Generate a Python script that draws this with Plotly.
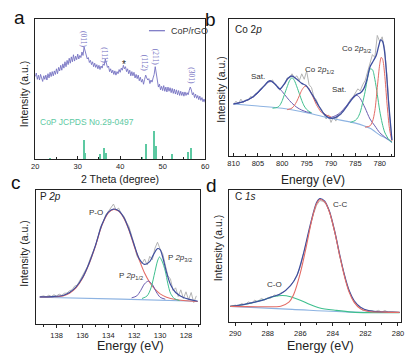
import plotly.graph_objects as go

W, H = 416, 359
OFF = 8  # default page margin of the html body
FW, FH = W - OFF, H - OFF

# ================= Panel a : XRD =================
xrd_theta = [round(20 + 0.25 * i, 2) for i in range(161)]
xrd_intensity = [
    59, 61.5, 57, 60, 56.5, 60.5, 58, 55.5, 59.5, 57, 60, 56.5, 61, 58, 62, 59,
    62.5, 59.5, 63, 60.5, 64.5, 61, 65.5, 63, 67, 63.5, 68, 65, 69.5, 66, 70.5, 67.5,
    72, 68.5, 73, 69.5, 74.5, 70, 73.5, 71, 75, 71.5, 74, 72.5, 76.5, 74, 80, 77,
    74, 71.5, 72.5, 69, 70.5, 67.5, 69.5, 66, 68.5, 65.5, 67.5, 64.5, 67, 64, 66.5, 65,
    68, 67, 71.5, 68, 65.5, 66.5, 62.5, 64.5, 61.5, 63.5, 60.5, 63, 60, 62.5, 61, 64,
    62, 65, 63.5, 67, 64.5, 66, 62.5, 64.5, 61, 63.5, 59.5, 62.5, 59.5, 62, 58, 60.5,
    57.5, 60, 56, 58.5, 55, 57, 53.5, 57, 60, 58, 56.5, 57.5, 54, 56.5, 55, 58,
    60.5, 66, 62, 56, 51.5, 53.5, 49.5, 52, 49, 52.5, 48.5, 51.5, 48, 51.5, 48.5, 51,
    47.5, 50.5, 47, 50, 46.5, 49.5, 46, 49, 45.5, 48.5, 45.5, 48, 45, 48, 45.5, 47.5,
    46, 49, 51.5, 49.5, 46, 47.5, 44, 46.5, 43.5, 45.5, 42.5, 45, 42, 44, 41, 43, 40.5,
]
ref_theta = [23.6, 31.6, 31.9, 35.3, 36.3, 36.7, 45.2, 46.2, 48.1, 48.4, 52.3, 56.0, 56.8]
ref_height = [1.0, 13.8, 4.3, 3.6, 8.3, 4.3, 1.4, 10.7, 20.4, 9.5, 3.8, 5.4, 7.9]
miller_text = ["(011)", "(111)", "(112)", "(211)", "(301)"]
miller_theta = [31.5, 36.4, 45.9, 48.5, 56.6]
miller_y = [85.7, 74.3, 68.6, 72.9, 59.4]
star_theta = 40.8
star_y = 67.9

# ================= Panel b : Co 2p =================
co_raw_be = [810 - 0.5 * i for i in range(66)]
co_raw = [
    37.5, 40, 38, 41.5, 39, 41, 40.5, 43.5, 42.5, 45.5, 46, 49, 50.5, 51.5, 54.5, 54,
    55.5, 52, 51, 48, 50.5, 52.5, 57, 57, 60, 57, 58.5, 55, 60, 56, 62, 52,
    50, 43, 41, 36, 34.5, 30, 27, 30, 24.5, 28.5, 25.5, 30.5, 30, 33.5, 35, 38,
    41.5, 43, 46, 49, 47.5, 52, 55, 62, 68, 74, 72, 88, 83.5, 87, 78, 58, 30, 12,
]
co_env_be = [810, 808, 806, 804, 803, 802.5, 801.5, 800.5, 799.5, 798.8, 798, 797, 796, 795.2,
             794.5, 793.5, 792.5, 791.5, 790.5, 789.5, 788.5, 787.5, 786.5, 785.5, 784.7,
             784, 783.3, 782.6, 782, 781.3, 780.7, 780.2, 779.8, 779.4, 779, 778.6, 778.2, 777.5]
co_env = [38.0, 39.7, 43.3, 50.1, 54.0, 55.0, 52.6, 48.9, 53.0, 56.8, 58.4, 56.0, 53.0, 51.6,
          48.5, 42.7, 36.5, 31.0, 28.0, 27.6, 29.3, 32.6, 37.5, 42.2, 45.0,
          46.0, 49.0, 56.0, 65.0, 69.5, 73.5, 80.5, 84.7, 83.5, 76.0, 60.0, 40.0, 11.7]
co_bg_be = [810, 805, 800, 795, 790, 785, 782, 780, 779, 778, 777.5]
co_bg = [38.0, 36.5, 34.8, 31.6, 27.5, 24.0, 20.2, 15.3, 13.4, 11.2, 9.7]
sat1_be = [810, 808, 806, 805, 804, 803, 802.5, 802, 801, 800, 799, 798, 797, 796, 795, 794]
sat1 = [38.0, 39.5, 43.0, 46.0, 50.0, 53.5, 54.5, 54.0, 51.0, 47.0, 42.5, 38.5, 35.5, 33.5, 32.2, 31.5]
g12_be = [802, 801, 800.5, 800, 799.5, 799, 798.5, 798, 797.5, 797, 796.5, 796, 795.5, 795, 794.5, 794]
g12 = [34.9, 35.5, 37.0, 40.5, 45.5, 50.5, 55.0, 57.2, 55.0, 50.5, 45.5, 40.5, 36.5, 34.0, 32.5, 31.5]
r12_be = [799, 798, 797.5, 797, 796.5, 796, 795.5, 795.1, 794.6, 794, 793.5, 793, 792.5, 792, 791, 790]
r12 = [33.8, 35.0, 37.0, 40.0, 44.0, 48.0, 50.5, 51.0, 49.5, 45.5, 41.5, 37.5, 34.5, 32.0, 30.0, 28.5]
sat2_be = [790.5, 789, 788, 787, 786, 785.5, 785, 784.5, 784, 783, 782, 781, 780, 779, 778, 777.5]
sat2 = [27.6, 29.5, 32.0, 36.0, 40.5, 43.0, 44.3, 44.0, 42.0, 35.0, 27.0, 22.0, 17.0, 14.0, 11.5, 10.3]
g32_be = [786, 785, 784.5, 784, 783.5, 783, 782.5, 782, 781.5, 781, 780.5, 780, 779.5, 779, 778.5, 778, 777.5]
g32 = [24.5, 26.0, 28.0, 32.0, 39.0, 47.0, 57.0, 63.5, 63.0, 56.0, 45.0, 33.0, 24.0, 17.5, 14.0, 11.5, 10.0]
r32_be = [783, 782, 781.5, 781, 780.5, 780, 779.7, 779.4, 779, 778.5, 778, 777.5]
r32 = [21.0, 22.0, 25.0, 33.0, 50.0, 67.0, 72.0, 70.5, 60.0, 38.0, 20.0, 11.0]

# ================= Panel c : P 2p =================
p_raw_be = [round(139.2 - 0.2 * i, 1) for i in range(61)]
p_raw = [
    20.5, 21.0, 20.2, 21.5, 20.6, 21.8, 20.9, 22.3, 21.4, 22.9, 23.1, 24.8, 25.5, 28.3, 29.0, 32.5,
    35.2, 39.5, 43.0, 48.8, 53.5, 58.0, 64.5, 72.5, 76.0, 81.5, 84.0, 86.5, 89.5, 85.0, 86.5, 82.0,
    80.5, 76.0, 72.5, 66.0, 59.5, 51.0, 47.5, 45.0, 48.5, 44.0, 50.5, 48.0, 56.5, 61.0, 56.0, 52.5,
    44.0, 36.0, 33.5, 25.0, 27.0, 20.5, 25.5, 19.0, 24.0, 18.0, 23.5, 16.0, 21.0,
]
p_env_be = [139.3, 138.3, 137.5, 137.0, 136.5, 136.0, 135.5, 135.0, 134.5, 134.0, 133.6, 133.2,
            132.8, 132.4, 132.0, 131.6, 131.2, 130.8, 130.5, 130.2, 130.0, 129.8, 129.5, 129.2,
            128.8, 128.2, 127.1]
p_env = [20.2, 20.5, 21.3, 23.5, 27.5, 34.5, 45.0, 58.5, 74.0, 83.5, 85.8, 84.5,
         79.5, 70.5, 59.0, 48.5, 44.5, 46.5, 52.0, 56.3, 55.5, 50.0, 38.5, 29.5,
         23.5, 19.8, 17.0]
p_po_be = [139.3, 138.3, 137.5, 137.0, 136.5, 136.0, 135.5, 135.0, 134.5, 134.0, 133.6, 133.2,
           132.8, 132.4, 132.0, 131.6, 131.2, 130.8, 130.4, 130.0, 129.5, 128.8, 127.1]
p_po = [20.2, 20.3, 21.0, 23.0, 27.0, 34.0, 44.5, 58.0, 73.5, 83.0, 85.5, 84.2,
        79.0, 70.0, 58.0, 47.5, 38.0, 31.0, 26.0, 22.5, 20.0, 18.3, 16.8]
p32_be = [131.4, 131.0, 130.7, 130.4, 130.2, 130.05, 129.85, 129.6, 129.4, 129.2, 128.9, 128.5]
p32 = [19.0, 21.0, 27.0, 39.0, 47.0, 50.0, 47.0, 39.5, 30.0, 23.0, 19.0, 17.5]
p12_be = [132.2, 131.8, 131.5, 131.2, 130.9, 130.6, 130.3, 130.0, 129.6]
p12 = [19.5, 21.0, 25.0, 30.0, 32.0, 29.5, 24.0, 20.0, 18.5]
p_bg_be = [139.3, 133.0, 127.1]
p_bg = [20.0, 18.6, 17.0]

# ================= Panel d : C 1s =================
c_raw_be = [round(290.2 - 0.2 * i, 1) for i in range(52)]
c_raw = [
    12.0, 12.8, 12.2, 14.0, 13.0, 15.2, 14.3, 16.5, 15.5, 17.8, 16.8, 18.5, 18.0, 20.5, 19.8, 22.0,
    22.8, 25.0, 27.8, 31.0, 35.5, 42.0, 52.5, 61.5, 72.0, 81.5, 88.5, 92.0, 91.5, 89.0, 83.5, 74.0,
    64.0, 51.0, 40.0, 31.0, 23.5, 17.5, 13.5, 11.0, 9.0, 8.5, 8.0, 8.6, 7.8, 8.8, 7.5, 8.7,
    7.4, 7.8, 7.5, 7.3,
]
c_env_be = [290.3, 289.5, 288.8, 288.2, 287.8, 287.2, 286.6, 286.2, 285.8, 285.4, 285.0, 284.8,
            284.5, 284.2, 283.9, 283.6, 283.3, 283.0, 282.7, 282.3, 281.8, 280.8, 279.9]
c_env = [11.8, 13.2, 15.0, 17.0, 18.8, 21.4, 27.6, 35.5, 52.0, 73.0, 90.5, 93.5,
         91.5, 83.5, 69.5, 52.2, 36.2, 23.8, 16.3, 11.2, 8.6, 7.6, 7.3]
c_cc_be = [290.3, 288.5, 287.2, 286.7, 286.4, 286.0, 285.6, 285.3, 285.0, 284.8, 284.5, 284.2,
           283.9, 283.6, 283.3, 283.0, 282.7, 282.3, 281.8, 280.8, 279.9]
c_cc = [11.8, 11.6, 12.0, 15.0, 21.0, 37.0, 59.0, 77.0, 89.5, 92.8, 91.0, 83.0,
        69.0, 51.5, 35.2, 22.6, 15.1, 10.0, 8.0, 7.5, 7.3]
c_co_be = [290.3, 289.2, 288.2, 287.6, 287.1, 286.6, 286.0, 285.4, 284.8, 283.8, 282.8, 281.8, 279.9]
c_co = [11.8, 13.8, 17.1, 19.3, 20.1, 19.2, 16.5, 13.2, 10.6, 8.8, 7.5, 7.1, 7.0]
c_bg_be = [290.3, 286.5, 282.8, 279.9]
c_bg = [11.8, 9.6, 7.5, 7.2]

# ================= styling =================
FONT = "Arial, Liberation Sans, sans-serif"
SERIF = "Times New Roman, Liberation Serif, serif"
C_RAW = "#ABABAB"
C_ENV = "#3F4F9F"
C_SAT = "#6A5CB0"
C_GRN = "#3EBF8E"
C_RED = "#E46C66"
C_BG = "#8DB3E2"
C_XRD = "#7572C2"
C_REF = "#5DC9A2"


def px(x):
    return (x - OFF) / FW


def py(y):
    return 1 - (y - OFF) / FH


fig = go.Figure()


def line(x, y, color, width=1.0, ax="", spline=False):
    fig.add_trace(go.Scatter(
        x=x, y=y, mode="lines", xaxis="x" + ax, yaxis="y" + ax,
        line=dict(color=color, width=width, shape="spline" if spline else "linear",
                  smoothing=0.8 if spline else None),
        showlegend=False, hoverinfo="skip"))


# panel a
fig.add_trace(go.Bar(x=ref_theta, y=ref_height, width=0.18, marker=dict(color=C_REF, line=dict(width=0)),
                     xaxis="x", yaxis="y", showlegend=False, hoverinfo="skip"))
line(xrd_theta, xrd_intensity, C_XRD, 0.9, "")

# panel b
line(co_raw_be, co_raw, C_RAW, 0.9, "2")
line(co_bg_be, co_bg, C_BG, 1.1, "2", True)
line(sat1_be, sat1, C_SAT, 1.0, "2", True)
line(g12_be, g12, C_GRN, 1.0, "2", True)
line(r12_be, r12, C_RED, 1.0, "2", True)
line(sat2_be, sat2, C_SAT, 1.0, "2", True)
line(g32_be, g32, C_GRN, 1.0, "2", True)
line(r32_be, r32, C_RED, 1.0, "2", True)
line(co_env_be, co_env, C_ENV, 1.3, "2", True)

# panel c
line(p_raw_be, p_raw, C_RAW, 0.9, "3")
line(p_bg_be, p_bg, C_BG, 1.1, "3", True)
line(p_po_be, p_po, C_RED, 1.1, "3", True)
line(p12_be, p12, C_SAT, 1.0, "3", True)
line(p32_be, p32, C_GRN, 1.0, "3", True)
line(p_env_be, p_env, C_ENV, 1.2, "3", True)

# panel d
line(c_raw_be, c_raw, C_RAW, 0.9, "4")
line(c_bg_be, c_bg, C_BG, 1.1, "4", True)
line(c_co_be, c_co, C_GRN, 1.1, "4", True)
line(c_env_be, c_env, C_ENV, 1.2, "4", True)
line(c_cc_be, c_cc, C_RED, 1.1, "4", True)

top_x = dict(showline=True, linecolor="#222", linewidth=1, mirror=True, showgrid=False,
             zeroline=False, ticks="inside", ticklen=3, tickwidth=0.8, tickcolor="#222",
             tickfont=dict(family=FONT, size=7.5, color="#222"))
bot_x = dict(showline=True, linecolor="#222", linewidth=1, mirror=True, showgrid=False,
             zeroline=False, ticks="outside", ticklen=3, tickwidth=0.8, tickcolor="#222",
             ticklabelstandoff=1,
             tickfont=dict(family=FONT, size=7.5, color="#222"))
yaxis_common = dict(showline=True, linecolor="#222", linewidth=1, mirror=True, showgrid=False,
                    zeroline=False, showticklabels=False, ticks="", range=[0, 100], fixedrange=True)

fig.update_layout(
    width=FW, height=FH, margin=dict(l=0, r=0, t=0, b=0),
    paper_bgcolor="white", plot_bgcolor="white", showlegend=False, bargap=0,
    xaxis=dict(top_x, domain=[px(31.7), px(205)], range=[20, 60], dtick=10, tick0=20,
               minor=dict(ticks="inside", ticklen=2, dtick=5, tickcolor="#222"), anchor="y"),
    yaxis=dict(yaxis_common, domain=[py(159.3), py(19)], anchor="x"),
    xaxis2=dict(top_x, domain=[px(229), px(398)], range=[811.0, 777.0], dtick=5, tick0=780,
                minor=dict(ticks="inside", ticklen=2, dtick=2.5, tickcolor="#222"), anchor="y2"),
    yaxis2=dict(yaxis_common, domain=[py(156), py(19)], anchor="x2"),
    xaxis3=dict(bot_x, domain=[px(32.3), px(200)], range=[139.6, 126.9], dtick=2, tick0=128,
                minor=dict(ticks="outside", ticklen=2, dtick=1, tickcolor="#222"), anchor="y3"),
    yaxis3=dict(yaxis_common, domain=[py(324), py(190)], anchor="x3"),
    xaxis4=dict(bot_x, domain=[px(229), px(405)], range=[290.4, 279.8], dtick=2, tick0=280,
                minor=dict(ticks="outside", ticklen=2, dtick=1, tickcolor="#222"), anchor="y4"),
    yaxis4=dict(yaxis_common, domain=[py(322), py(190)], anchor="x4"),
)

ann = []


def text(x, y, s, size, color="#333", xanchor="center", angle=0, family=FONT):
    ann.append(dict(x=px(x), y=py(y), xref="paper", yref="paper", text=s, showarrow=False,
                    xanchor=xanchor, yanchor="middle", textangle=angle,
                    font=dict(family=family, size=size, color=color)))


# Miller indices (data coordinates, rotated)
for t, xv, yv in zip(miller_text, miller_theta, miller_y):
    ann.append(dict(x=xv, y=yv, xref="x", yref="y", text=t, showarrow=False, textangle=90,
                    xanchor="center", yanchor="middle",
                    font=dict(family=SERIF, size=7.5, color=C_XRD)))
ann.append(dict(x=star_theta, y=star_y, xref="x", yref="y", text="*", showarrow=False,
                xanchor="center", yanchor="middle", font=dict(family=FONT, size=10, color="#222")))

# panel letters
text(15.5, 18, "a", 19, "#111")
text(210, 20, "b", 19, "#111")
text(12, 182, "c", 19, "#111")
text(211, 185, "d", 19, "#111")

# axis titles
text(118, 178.5, "2 Theta (degree)", 10.5, "#222")
text(315, 179.5, "Energy (eV)", 12, "#222")
text(128.5, 345.5, "Energy (eV)", 12.5, "#222")
text(323, 345.5, "Energy (eV)", 12.5, "#222")
text(20, 93.5, "Intensity (a.u.)", 10.5, "#222", angle=-90)
text(221, 89, "Intensity (a.u.)", 10.5, "#222", angle=-90)
text(20, 253, "Intensity (a.u.)", 10.5, "#222", angle=-90)
text(218.5, 248, "Intensity (a.u.)", 10.5, "#222", angle=-90)

# panel a legend & reference label
text(168, 30.7, "CoP/rGO", 9, "#333", xanchor="left")
text(35, 121.7, "CoP JCPDS No.29-0497", 8.5, C_REF, xanchor="left")

# panel b labels
text(233, 30, "Co 2<i>p</i>", 10, "#222", xanchor="left")
text(259, 76.5, "Sat.", 8, "#333")
text(305, 70, "Co 2<i>p</i><sub>1/2</sub>", 8, "#333", xanchor="left")
text(341.5, 89.3, "Sat.", 8, "#333")
text(342.5, 49.3, "Co 2<i>p</i><sub>3/2</sub>", 8, "#333", xanchor="left")

# panel c labels
text(35, 196, "P <i>2p</i>", 10, "#222", xanchor="left")
text(93.5, 212.3, "P-O", 8, "#333")
text(165, 258.3, "P <i>2p</i><sub>3/2</sub>", 8, "#333", xanchor="left")
text(115.5, 276, "P <i>2p</i><sub>1/2</sub>", 8, "#333", xanchor="left")

# panel d labels
text(233, 196.7, "C <i>1s</i>", 10, "#222", xanchor="left")
text(342.5, 204, "C-C", 8, "#333")
text(275.7, 284.5, "C-O", 8, "#333")

fig.update_layout(annotations=ann)
fig.add_shape(type="line", xref="paper", yref="paper", x0=px(147.7), x1=px(164),
              y0=py(30.7), y1=py(30.7), line=dict(color=C_XRD, width=1.2))

fig.write_html("out.html")
